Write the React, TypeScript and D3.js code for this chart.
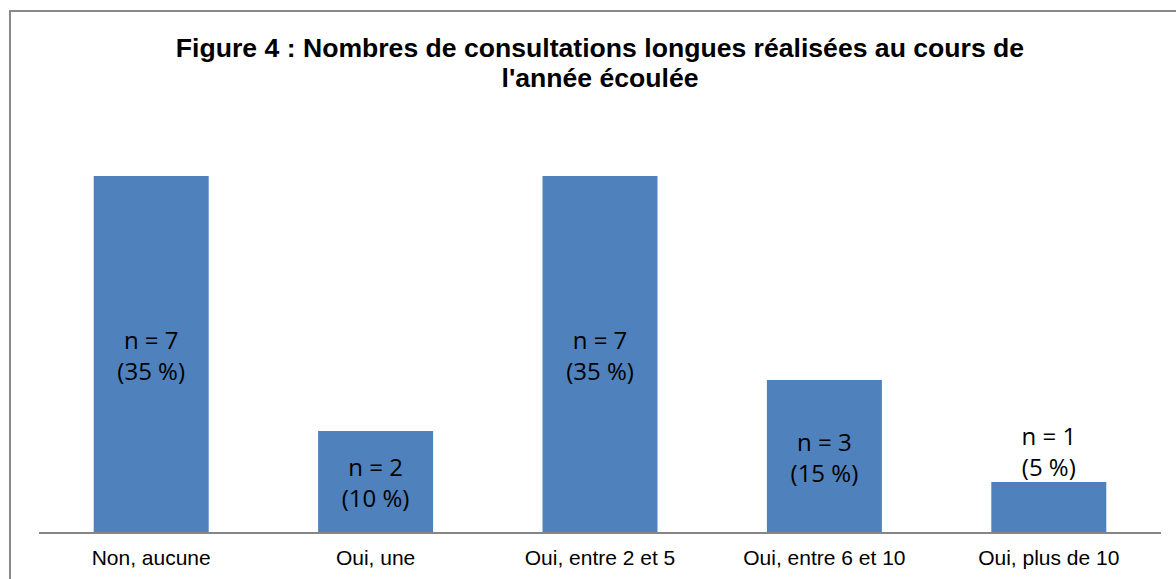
import React from "react";
import * as d3 from "d3";

const categories = ["Non, aucune", "Oui, une", "Oui, entre 2 et 5", "Oui, entre 6 et 10", "Oui, plus de 10"];
const counts = [7, 2, 7, 3, 1];
const percents = ["35 %", "10 %", "35 %", "15 %", "5 %"];
const titleLines = ["Figure 4 : Nombres de consultations longues réalisées au cours de", "l'année écoulée"];

const W = 1176;
const H = 579;

export default function App() {
  // plot area
  const x = d3.scaleBand<string>()
    .domain(categories)
    .range([39, 1161])
    .paddingInner(0.4875)
    .paddingOuter(0.24375);
  const y = d3.scaleLinear().domain([0, 8]).range([533, 125]);

  return (
    <svg width={W} height={H} style={{position: "absolute", left: 0, top: 0}}>
      <rect x={0} y={0} width={W} height={H} fill="#fff"/>
      {/* chart frame, right/bottom edges fall outside the crop */}
      <rect x={10} y={11} width={W + 20} height={H + 20} fill="none" stroke="#898989" strokeWidth={2}/>

      {titleLines.map((t, i) => (
        <text key={i} x={600} y={57 + i * 30} textAnchor="middle"
              fontFamily="Liberation Sans, Arial, sans-serif" fontWeight="bold" fontSize={26.6} fill="#000">
          {t}
        </text>
      ))}

      {categories.map((c, i) => {
        const x0 = x(c)!;
        const top = y(counts[i]);
        const h = y(0) - top;
        const cx = x0 + x.bandwidth() / 2;
        const inside = h > 60;
        const y1 = inside ? top + h / 2 - 6 : top - 37;
        const y2 = inside ? top + h / 2 + 25 : top - 6;
        return (
          <g key={c}>
            <rect x={x0} y={top} width={x.bandwidth()} height={h} fill="#4F81BD"/>
            <text x={cx} y={y1} textAnchor="middle" fontFamily="Open Sans, sans-serif" fontSize={24} fill="#000">
              {"n = " + counts[i]}
            </text>
            <text x={cx} y={y2} textAnchor="middle" fontFamily="Open Sans, sans-serif" fontSize={24} fill="#000">
              {"(" + percents[i] + ")"}
            </text>
            <text x={cx} y={565} textAnchor="middle" fontFamily="Liberation Sans, Arial, sans-serif"
                  fontSize={21} fill="#000">
              {c}
            </text>
          </g>
        );
      })}

      <line x1={39} x2={1161} y1={y(0)} y2={y(0)} stroke="#868686" strokeWidth={2}/>
    </svg>
  );
}
